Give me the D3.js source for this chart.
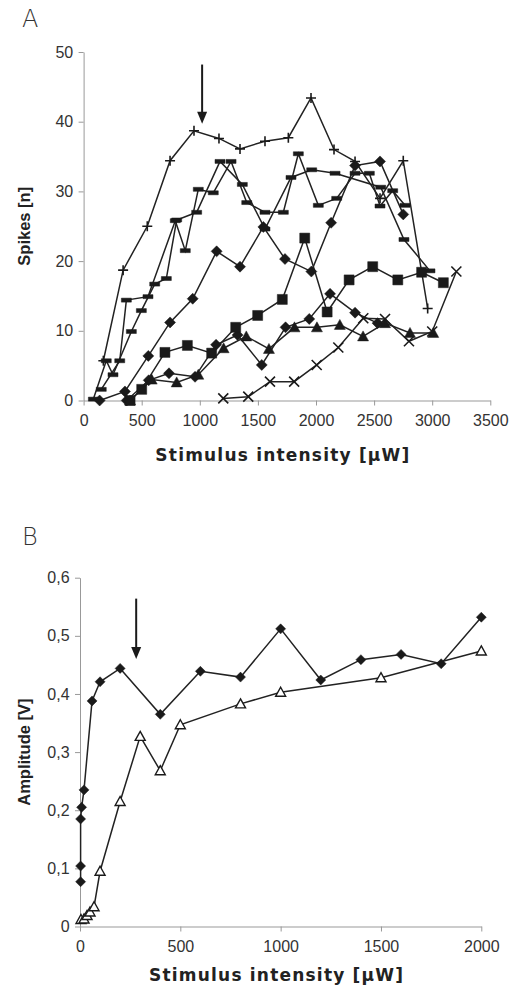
<!DOCTYPE html>
<html>
<head>
<meta charset="utf-8">
<script src="https://cdn.jsdelivr.net/npm/d3@7"></script>
<style>
  body { margin: 0; background: #fff; }
  svg { display: block; font-family: "Liberation Sans", Arial, sans-serif; }
</style>
</head>
<body>
<svg id="chart" width="516" height="988"></svg>
<script>
// Panel A – Spikes vs. stimulus intensity, [µW, n]
const plusS = [[170,5.7],[340,18.7],[548,25],[744,34.4],[950,38.7],[1165,37.6],[1346,36.1],[1561,37.2],[1762,37.7],[1957,43.4],[2155,36],[2336,34.3],[2551,29],[2751,34.4],[2961,13.2]];
const dashA = [[84,0.2],[195,5.7],[253,3.7],[411,9.9],[497,12.9],[612,16.7],[712,17.5],[801,25.9],[973,27],[1174,34.3],[1366,31],[1561,24.6],[1785,32],[1963,33.1],[2164,32.6],[2557,30.6],[2757,23.1],[2981,18.6]];
const dashB = [[152,1.6],[311,5.7],[368,14.4],[554,14.9],[789,25.8],[875,21.5],[987,30.3],[1116,29.8],[1269,34.3],[1404,28.4],[1561,27],[1719,27],[1848,35.4],[2020,28],[2178,29],[2336,32.6],[2459,32.6],[2551,27.9],[2660,30.1],[2766,28]];
const diamA = [[138,0],[356,1.3],[557,6.4],[744,11.2],[939,14.6],[1145,21.4],[1346,19.2],[1547,24.9],[1733,20.3],[1960,18.5],[2130,25.5],[2336,33.7],[2551,34.3],[2751,26.7]];
const diamB = [[371,0],[560,2.9],[735,3.9],[959,3.4],[1140,8.0],[1325,9.4],[1533,5.1],[1738,10.5],[1942,11.7],[2121,15.3],[2336,12.6],[2530,11.1]];
const squareS = [[400,0],[500,1.6],[700,6.9],[893,7.9],[1102,6.8],[1309,10.5],[1498,12.2],[1710,14.5],[1903,23.3],[2096,12.7],[2285,17.3],[2488,19.2],[2704,17.3],[2909,18.4],[3096,16.9]];
const triS = [[400,0],[586,3.0],[801,2.6],[987,3.7],[1205,7.5],[1400,9.2],[1595,7.4],[1815,10.5],[2008,10.5],[2205,10.85],[2405,9.2],[2594,11.1],[2809,9.7],[3009,9.7]];
const crossS = [[1202,0.3],[1417,0.55],[1604,2.7],[1812,2.7],[2006,5.1],[2192,7.6],[2407,11.8],[2594,11.7],[2800,8.5],[3000,9.9],[3208,18.5]];
const xTicksA = [0,500,1000,1500,2000,2500,3000,3500];
const yTicksA = [0,10,20,30,40,50];
const arrowA = [1020, 48.2, 39.7];

// Panel B – Amplitude vs. stimulus intensity, [µW, V]
const ampDiam = [[3,0.077],[3,0.104],[3,0.185],[8,0.205],[20,0.235],[60,0.388],[100,0.421],[200,0.444],[400,0.365],[600,0.439],[800,0.429],[1000,0.512],[1200,0.424],[1400,0.459],[1600,0.468],[1800,0.452],[2000,0.532]];
const ampTri = [[5,0.012],[20,0.013],[35,0.019],[50,0.025],[70,0.034],[100,0.095],[200,0.215],[300,0.327],[400,0.268],[500,0.347],[800,0.383],[1000,0.403],[1500,0.428],[2000,0.474]];
const xTicksB = [0,500,1000,1500,2000];
const yTicksB = [0,0.1,0.2,0.3,0.4,0.5,0.6];
const arrowB = [280, 0.564, 0.46];

const svg = d3.select("#chart");
const comma = d3.formatLocale({decimal: ",", thousands: ".", grouping: [3], currency: ["", ""]}).format(".1f");

// marker paths, centred on 0,0
const markers = {
  plus:    "M-5,0H5M0,-5V5",
  cross:   "M-5,-5L5,5M-5,5L5,-5",
  dash:    "M-5,-2H5V2H-5Z",
  diamond: "M0,-5.5L5.5,0L0,5.5L-5.5,0Z",
  square:  "M-5,-5H5V5H-5Z",
  tri:     "M0,-5.5L5.5,4.5H-5.5Z",
  diamondS:"M0,-5L5,0L0,5L-5,0Z",
  triOpen: "M0,-5L5,4H-5Z"
};

function panel(o) {
  const x = d3.scaleLinear().domain(o.xd).range(o.xr);
  const y = d3.scaleLinear().domain(o.yd).range(o.yr);
  const g = svg.append("g");

  const ax = g.append("g")
    .attr("transform", `translate(0,${o.yr[0]})`)
    .call(d3.axisBottom(x).tickValues(o.xt).tickFormat(d3.format("d")).tickSize(5).tickSizeOuter(0));
  const ay = g.append("g")
    .attr("transform", `translate(${o.xr[0]},0)`)
    .call(d3.axisLeft(y).tickValues(o.yt).tickFormat(o.yf).tickSize(5).tickSizeOuter(0));
  [ax, ay].forEach(a => {
    a.select(".domain").attr("stroke", "#999");
    a.selectAll(".tick line").attr("stroke", "#999");
    a.selectAll(".tick text").attr("fill", "#333").attr("font-size", "16px");
  });
  ax.selectAll(".tick text").attr("dy", "1.1em");
  ay.selectAll(".tick text").attr("dx", "-0.15em");

  g.append("text")
    .attr("x", (o.xr[0] + o.xr[1]) / 2 - 4)
    .attr("y", o.xTitleY)
    .attr("text-anchor", "middle")
    .attr("font-family", "'DejaVu Sans', sans-serif")
    .attr("font-weight", "bold").attr("font-size", "17px").attr("fill", "#222")
    .attr("letter-spacing", "1.2px")
    .text("Stimulus intensity [µW]");
  g.append("text")
    .attr("transform", `translate(${o.yTitleX},${(o.yr[0] + o.yr[1]) / 2}) rotate(-90)`)
    .attr("text-anchor", "middle")
    .attr("font-weight", "bold").attr("font-size", "16.5px").attr("fill", "#222")
    .text(o.yTitle);
  g.append("text")
    .attr("x", 22).attr("y", o.labelY)
    .attr("font-family", "'DejaVu Sans', sans-serif").attr("font-weight", 200)
    .attr("font-size", "24px").attr("fill", "#333")
    .text(o.label);

  const line = d3.line().x(d => x(d[0])).y(d => y(d[1]));
  o.series.forEach(s => {
    g.append("path").datum(s.data)
      .attr("d", line).attr("fill", "none")
      .attr("stroke", "#222").attr("stroke-width", 1.5);
  });
  o.series.forEach(s => {
    const filled = !["plus", "cross"].includes(s.m);
    g.selectAll(null).data(s.data).join("path")
      .attr("transform", d => `translate(${x(d[0])},${y(d[1])})`)
      .attr("d", markers[s.m])
      .attr("fill", s.m === "triOpen" ? "#fff" : (filled ? "#1a1a1a" : "none"))
      .attr("stroke", "#1a1a1a")
      .attr("stroke-width", s.m === "triOpen" ? 1.4 : (filled ? 0.5 : 1.6));
  });

  // arrow
  const [ax0, ay0, ay1] = o.arrow;
  g.append("line")
    .attr("x1", x(ax0)).attr("x2", x(ax0))
    .attr("y1", y(ay0)).attr("y2", y(ay1) - 10)
    .attr("stroke", "#1a1a1a").attr("stroke-width", 2);
  g.append("path")
    .attr("d", `M${x(ax0) - 5},${y(ay1) - 12}L${x(ax0) + 5},${y(ay1) - 12}L${x(ax0)},${y(ay1)}Z`)
    .attr("fill", "#1a1a1a");
}

panel({
  xd: [0, 3500], xr: [83.6, 490.3], yd: [0, 50], yr: [400.5, 52],
  xt: xTicksA, yt: yTicksA, yf: d3.format("d"),
  xTitleY: 461, yTitleX: 30, yTitle: "Spikes [n]", label: "A", labelY: 27,
  arrow: arrowA,
  series: [
    {data: plusS, m: "plus"}, {data: dashA, m: "dash"}, {data: dashB, m: "dash"},
    {data: diamA, m: "diamond"}, {data: diamB, m: "diamond"},
    {data: squareS, m: "square"}, {data: triS, m: "tri"}, {data: crossS, m: "cross"}
  ]
});

panel({
  xd: [0, 2000], xr: [80, 481.3], yd: [0, 0.6], yr: [926.5, 577.7],
  xt: xTicksB, yt: yTicksB, yf: d => d === 0 ? "0" : comma(d),
  xTitleY: 981, yTitleX: 30, yTitle: "Amplitude [V]", label: "B", labelY: 545,
  arrow: arrowB,
  series: [{data: ampDiam, m: "diamondS"}, {data: ampTri, m: "triOpen"}]
});
</script>
</body>
</html>
